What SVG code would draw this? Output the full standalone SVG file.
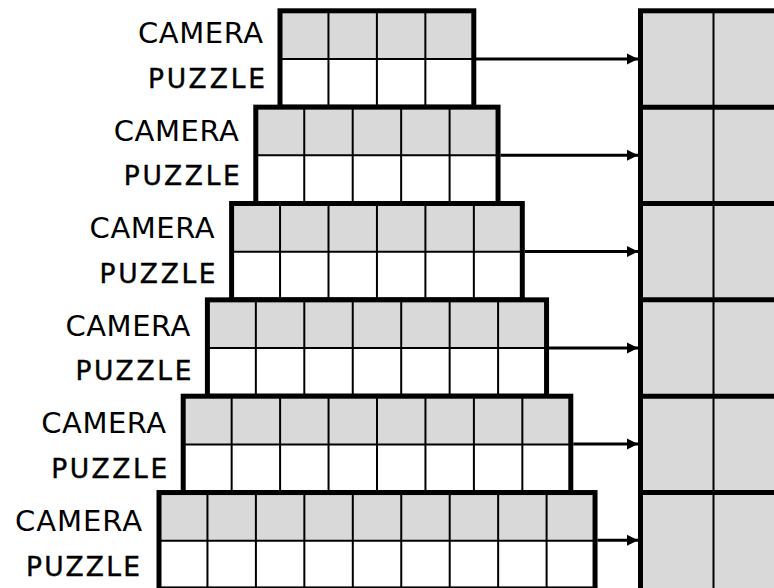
<svg xmlns="http://www.w3.org/2000/svg" width="774" height="588" viewBox="0 0 774 588">
<defs>
<style>
.top{fill:#d9d9d9}
.bot{fill:#fff}
.thin{stroke:#000;stroke-width:2;fill:none}
.frame{fill:none;stroke:#000;stroke-width:5}
.cam{font-family:"DejaVu Sans",sans-serif;font-size:29px;text-anchor:end;fill:#000}
.puz{font-family:"DejaVu Sans",sans-serif;font-size:26.5px;text-anchor:end;fill:#000;stroke:#000;stroke-width:0.4}
.arrow{stroke:#000;stroke-width:3;fill:none}
</style>
<marker id="ah" markerUnits="userSpaceOnUse" markerWidth="12" markerHeight="12" refX="11" refY="6" orient="auto">
<path d="M0,0.5 L11,6 L0,11.5 z" fill="#000"/>
</marker>
</defs>
<rect width="774" height="588" fill="#fff"/>

<g id="panel">
<rect x="640.5" y="10.8" width="200" height="600" class="top"/>
<line x1="713.5" y1="10.8" x2="713.5" y2="588" class="thin"/>
<g stroke="#000" stroke-width="5">
<line x1="640.5" y1="107.15" x2="774" y2="107.15"/>
<line x1="640.5" y1="203.5" x2="774" y2="203.5"/>
<line x1="640.5" y1="299.85" x2="774" y2="299.85"/>
<line x1="640.5" y1="396.2" x2="774" y2="396.2"/>
<line x1="640.5" y1="492.55" x2="774" y2="492.55"/>
</g>
<rect x="640.5" y="10.8" width="200" height="600" class="frame"/>
</g>

<g id="block1" transform="translate(280,10.8)">
<rect width="193.8" height="48.2" class="top"/>
<rect y="48.2" width="193.8" height="48.15" class="bot"/>
<path class="thin" d="M48.45,0V96.35M96.9,0V96.35M145.35,0V96.35M0,48.2H193.8"/>
<rect width="193.8" height="96.35" class="frame"/>
</g>
<g id="block2" transform="translate(255.8,107.15)">
<rect width="242.25" height="48.2" class="top"/>
<rect y="48.2" width="242.25" height="48.15" class="bot"/>
<path class="thin" d="M48.45,0V96.35M96.9,0V96.35M145.35,0V96.35M193.8,0V96.35M0,48.2H242.25"/>
<rect width="242.25" height="96.35" class="frame"/>
</g>
<g id="block3" transform="translate(231.6,203.5)">
<rect width="290.7" height="48.2" class="top"/>
<rect y="48.2" width="290.7" height="48.15" class="bot"/>
<path class="thin" d="M48.45,0V96.35M96.9,0V96.35M145.35,0V96.35M193.8,0V96.35M242.25,0V96.35M0,48.2H290.7"/>
<rect width="290.7" height="96.35" class="frame"/>
</g>
<g id="block4" transform="translate(207.4,299.85)">
<rect width="339.15" height="48.2" class="top"/>
<rect y="48.2" width="339.15" height="48.15" class="bot"/>
<path class="thin" d="M48.45,0V96.35M96.9,0V96.35M145.35,0V96.35M193.8,0V96.35M242.25,0V96.35M290.7,0V96.35M0,48.2H339.15"/>
<rect width="339.15" height="96.35" class="frame"/>
</g>
<g id="block5" transform="translate(183.2,396.2)">
<rect width="387.6" height="48.2" class="top"/>
<rect y="48.2" width="387.6" height="48.15" class="bot"/>
<path class="thin" d="M48.45,0V96.35M96.9,0V96.35M145.35,0V96.35M193.8,0V96.35M242.25,0V96.35M290.7,0V96.35M339.15,0V96.35M0,48.2H387.6"/>
<rect width="387.6" height="96.35" class="frame"/>
</g>
<g id="block6" transform="translate(159,492.55)">
<rect width="436.05" height="48.2" class="top"/>
<rect y="48.2" width="436.05" height="48.15" class="bot"/>
<path class="thin" d="M48.45,0V96.35M96.9,0V96.35M145.35,0V96.35M193.8,0V96.35M242.25,0V96.35M290.7,0V96.35M339.15,0V96.35M387.6,0V96.35M0,48.2H436.05"/>
<rect width="436.05" height="96.35" class="frame"/>
</g>

<g id="labels">
<text class="cam" x="263" y="43.2" textLength="125" lengthAdjust="spacing">CAMERA</text>
<text class="puz" x="265" y="87.5" textLength="117" lengthAdjust="spacing">PUZZLE</text>
<text class="cam" x="238.8" y="140.7" textLength="125" lengthAdjust="spacing">CAMERA</text>
<text class="puz" x="239.8" y="185" textLength="116" lengthAdjust="spacing">PUZZLE</text>
<text class="cam" x="214.6" y="238.2" textLength="125" lengthAdjust="spacing">CAMERA</text>
<text class="puz" x="215.6" y="282.5" textLength="116" lengthAdjust="spacing">PUZZLE</text>
<text class="cam" x="190.4" y="335.7" textLength="125" lengthAdjust="spacing">CAMERA</text>
<text class="puz" x="191.4" y="380" textLength="116" lengthAdjust="spacing">PUZZLE</text>
<text class="cam" x="166.2" y="433.2" textLength="125" lengthAdjust="spacing">CAMERA</text>
<text class="puz" x="167.2" y="477.5" textLength="116" lengthAdjust="spacing">PUZZLE</text>
<text class="cam" x="142" y="530.7" textLength="127" lengthAdjust="spacing">CAMERA</text>
<text class="puz" x="140" y="576" textLength="114" lengthAdjust="spacing">PUZZLE</text>
</g>

<g id="connectors">
<line class="arrow" x1="476" y1="59" x2="638" y2="59" marker-end="url(#ah)"/>
<line class="arrow" x1="500.5" y1="155.3" x2="638" y2="155.3" marker-end="url(#ah)"/>
<line class="arrow" x1="524.8" y1="251.6" x2="638" y2="251.6" marker-end="url(#ah)"/>
<line class="arrow" x1="549" y1="347.9" x2="638" y2="347.9" marker-end="url(#ah)"/>
<line class="arrow" x1="573.3" y1="444" x2="638" y2="444" marker-end="url(#ah)"/>
<line class="arrow" x1="597.5" y1="540.3" x2="638" y2="540.3" marker-end="url(#ah)"/>
</g>
</svg>
